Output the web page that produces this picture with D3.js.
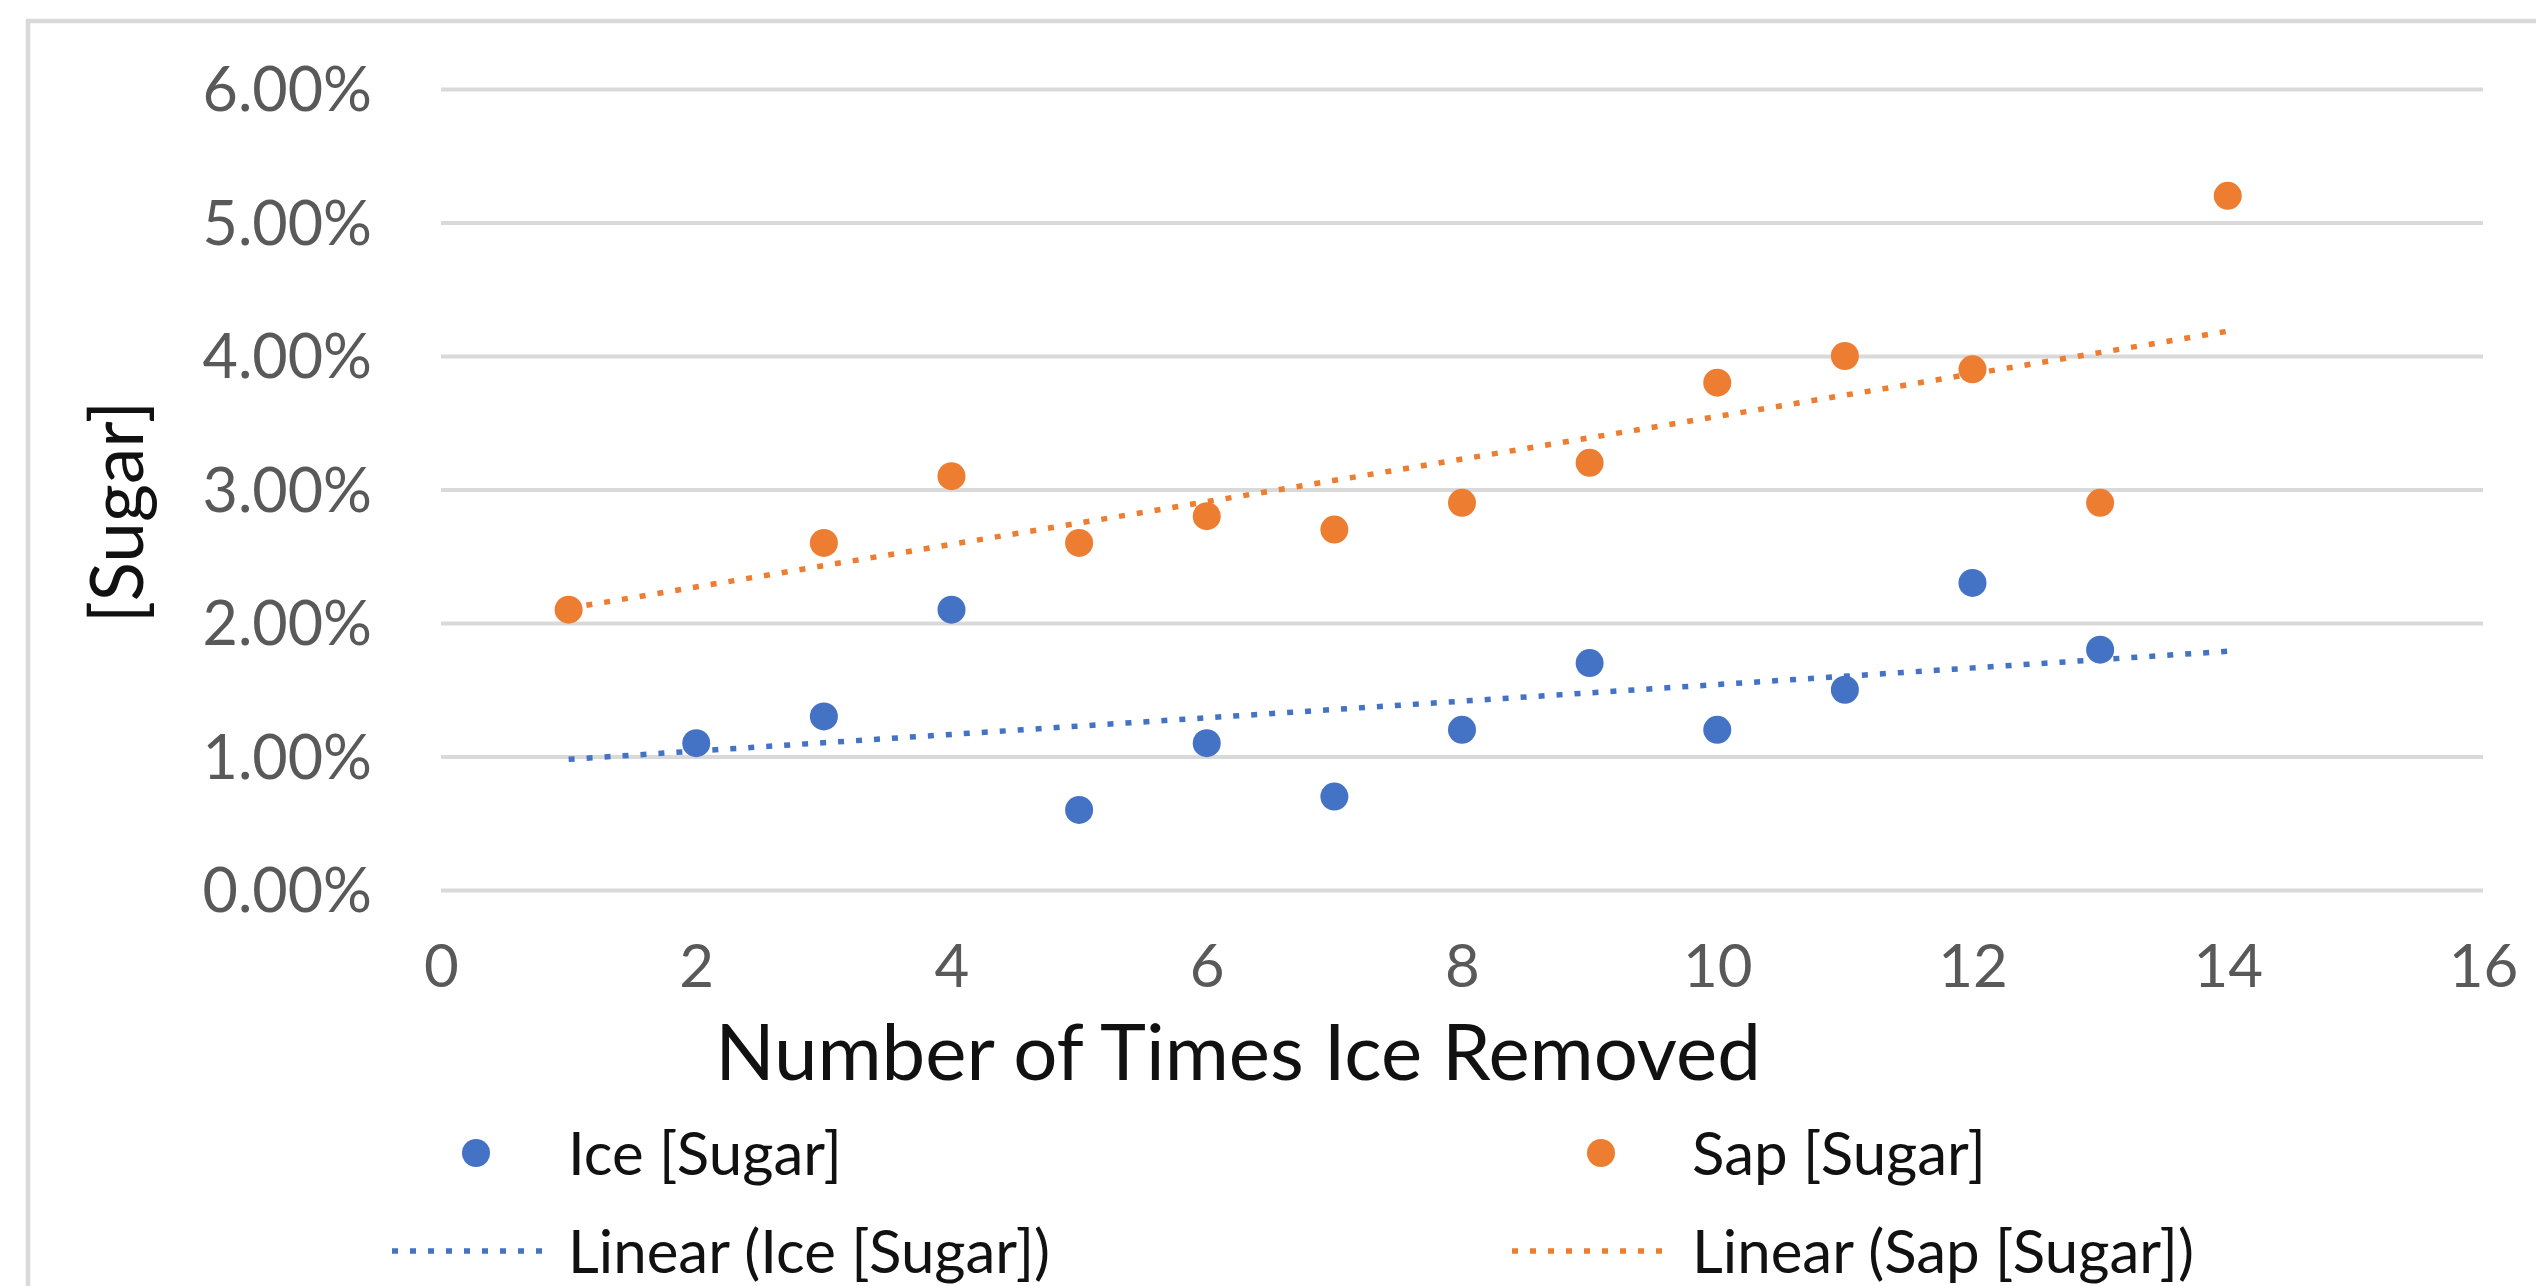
<!DOCTYPE html>
<html>
<head>
<meta charset="utf-8">
<script src="https://cdn.jsdelivr.net/npm/d3@7"></script>
<style>
  html, body { margin: 0; padding: 0; background: #fff; }
  svg { display: block; }
  text { font-family: Lato, "Open Sans", sans-serif; }
</style>
</head>
<body>
<svg id="chart" width="2536" height="1286"></svg>
<script>
// ---- Data ----
const iceX = [2, 3, 4, 5, 6, 7, 8, 9, 10, 11, 12, 13];
const iceY = [0.011, 0.013, 0.021, 0.006, 0.011, 0.007, 0.012, 0.017, 0.012, 0.015, 0.023, 0.018];
const sapX = [1, 3, 4, 5, 6, 7, 8, 9, 10, 11, 12, 13, 14];
const sapY = [0.021, 0.026, 0.031, 0.026, 0.028, 0.027, 0.029, 0.032, 0.038, 0.040, 0.039, 0.029, 0.052];
const trendRange = [1, 14];
const xTicks = [0, 2, 4, 6, 8, 10, 12, 14, 16];
const yTicks = [0, 0.01, 0.02, 0.03, 0.04, 0.05, 0.06];
const seriesNames = ["Ice [Sugar]", "Sap [Sugar]"];
const trendNames = ["Linear (Ice [Sugar])", "Linear (Sap [Sugar])"];
const xTitle = "Number of Times Ice Removed";
const yTitle = "[Sugar]";

const colors = { ice: "#4472C4", sap: "#ED7D31" };

const svg = d3.select("#chart");
const W = 2536, H = 1286;

svg.append("rect").attr("width", W).attr("height", H).attr("fill", "#fff");
// chart border (extends beyond the crop on right/bottom)
svg.append("rect")
  .attr("x", 28).attr("y", 21).attr("width", 2700).attr("height", 1500)
  .attr("fill", "none").attr("stroke", "#d9d9d9").attr("stroke-width", 4.5);

const x = d3.scaleLinear().domain([0, 16]).range([441, 2483]);
const y = d3.scaleLinear().domain([0, 0.06]).range([890, 89]);

// gridlines
const grid = svg.append("g")
  .attr("transform", `translate(${x(0)},0)`)
  .call(d3.axisLeft(y).tickValues(yTicks).tickSize(-(x(16) - x(0))).tickFormat(""));
grid.select(".domain").remove();
grid.selectAll(".tick line").attr("stroke", "#d9d9d9").attr("stroke-width", 4);

// y tick labels
const yAxis = svg.append("g")
  .attr("transform", `translate(372,0)`)
  .call(d3.axisLeft(y).tickValues(yTicks).tickSize(0).tickPadding(0).tickFormat(d3.format(".2%")));
yAxis.select(".domain").remove();
yAxis.selectAll("text")
  .attr("font-size", 61).attr("fill", "#595959")
  .style("font-family", "Lato, sans-serif")
  .attr("dy", "0.36em");

// x tick labels
const xAxis = svg.append("g")
  .attr("transform", `translate(0,944)`)
  .call(d3.axisBottom(x).tickValues(xTicks).tickSize(0).tickPadding(0).tickFormat(d3.format("d")));
xAxis.select(".domain").remove();
xAxis.selectAll("text")
  .attr("font-size", 60).attr("fill", "#595959")
  .style("font-family", "Lato, sans-serif")
  .attr("dy", "0.72em");

// axis titles
svg.append("text")
  .attr("x", 1238).attr("y", 1080)
  .attr("text-anchor", "middle")
  .attr("font-size", 78).attr("fill", "#111")
  .text(xTitle);

svg.append("text")
  .attr("transform", "translate(143,512) rotate(-90)")
  .attr("text-anchor", "middle")
  .attr("font-size", 73).attr("fill", "#111")
  .text(yTitle);

// trend lines (least squares)
function linreg(xs, ys) {
  const n = xs.length;
  const mx = d3.mean(xs), my = d3.mean(ys);
  let sxy = 0, sxx = 0;
  for (let i = 0; i < n; i++) { sxy += (xs[i] - mx) * (ys[i] - my); sxx += (xs[i] - mx) ** 2; }
  const b = sxy / sxx, a = my - b * mx;
  return t => a + b * t;
}
const line = d3.line().x(d => x(d[0])).y(d => y(d[1]));
[[iceX, iceY, colors.ice], [sapX, sapY, colors.sap]].forEach(([xs, ys, c]) => {
  const f = linreg(xs, ys);
  svg.append("path")
    .attr("d", line(trendRange.map(t => [t, f(t)])))
    .attr("fill", "none").attr("stroke", c)
    .attr("stroke-width", 5.5).attr("stroke-dasharray", "6 12");
});

// points
svg.append("g").selectAll("circle").data(iceX.map((d, i) => [d, iceY[i]]))
  .join("circle").attr("cx", d => x(d[0])).attr("cy", d => y(d[1])).attr("r", 14).attr("fill", colors.ice);
svg.append("g").selectAll("circle").data(sapX.map((d, i) => [d, sapY[i]]))
  .join("circle").attr("cx", d => x(d[0])).attr("cy", d => y(d[1])).attr("r", 14).attr("fill", colors.sap);

// legend
const legend = svg.append("g");
const cols = [{ mx: 476, lx0: 392, lx1: 543, tx: 568, c: colors.ice }, { mx: 1601, lx0: 1512, lx1: 1674, tx: 1692, c: colors.sap }];
const rowY = [1153, 1251];
cols.forEach((col, i) => {
  legend.append("circle").attr("cx", col.mx).attr("cy", rowY[0]).attr("r", 14).attr("fill", col.c);
  legend.append("text").attr("x", col.tx).attr("y", rowY[0]).attr("dy", "0.36em")
    .attr("font-size", 60).attr("fill", "#111").text(seriesNames[i]);
  legend.append("line").attr("x1", col.lx0).attr("x2", col.lx1).attr("y1", rowY[1]).attr("y2", rowY[1])
    .attr("stroke", col.c).attr("stroke-width", 5.5).attr("stroke-dasharray", "6 12");
  legend.append("text").attr("x", col.tx).attr("y", rowY[1]).attr("dy", "0.36em")
    .attr("font-size", 60).attr("fill", "#111").text(trendNames[i]);
});
</script>
</body>
</html>
